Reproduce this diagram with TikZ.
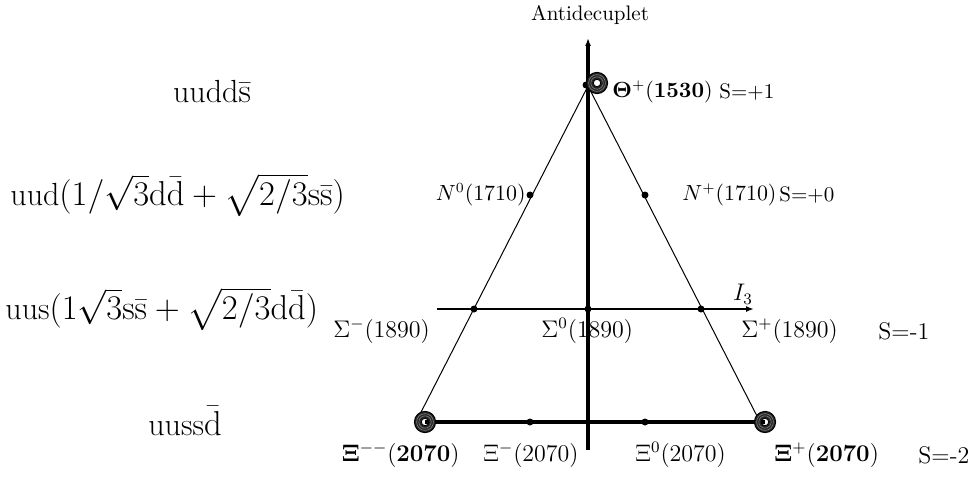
\documentclass[tikz,border=0pt]{standalone}
\usepackage{amsmath}
\usetikzlibrary{arrows.meta}
\begin{document}
\begin{tikzpicture}[x=0.5pt,y=-0.5pt,
  lbl/.style={inner sep=0pt,font=\fontsize{12}{14}\selectfont},
  slbl/.style={inner sep=0pt,font=\fontsize{10.5}{12.5}\selectfont},
  big/.style={inner sep=0pt,font=\fontsize{16}{19}\selectfont},
  edge/.style={line width=0.5pt},
  axisline/.style={line width=1.6pt},
  pt/.style={circle,fill=black,inner sep=0pt,minimum size=3.5pt},
]
\useasboundingbox (0,0) rectangle (977,476);
% key points
\coordinate (A) at (588,86);
\coordinate (Lt) at (417,420);
\coordinate (Rt) at (759,420);
\coordinate (axb) at (588,450);
\coordinate (axt) at (588,38);
\coordinate (i3a) at (437,309);
\coordinate (i3b) at (754,309);
\coordinate (bl) at (425,422);
\coordinate (br) at (765,422);
% title
\node[inner sep=0pt,font=\fontsize{10.5}{12}\selectfont] (ttl) at (590,15) {Antidecuplet};
% triangle edges
\draw[edge] (A) -- (Lt);
\draw[edge] (A) -- (Rt);
% axes
\draw[axisline,-{Latex[length=4pt,width=3pt]}] (axb) -- (axt);
\draw[line width=0.9pt,-{Latex[length=4pt,width=3pt]}] (i3a) -- (i3b);
\node[lbl] (i3) at (743,294) {$I_3$};
\draw[axisline] (bl) -- (br);
% dots
\node[pt] (d0) at (586,85) {};
\node[pt] (n0) at (530,195) {};
\node[pt] (np) at (645,195) {};
\node[pt] (sm) at (474,309) {};
\node[pt] (s0) at (588,309) {};
\node[pt] (sp) at (701,309) {};
\node[pt] (xm) at (530,422) {};
\node[pt] (x0) at (645,422) {};
% rings
\foreach \c in {(597,83),(425,422),(765,422)}{
  \draw[line width=3.3pt,black!85] \c circle (7.2);
  \draw[line width=0.5pt] \c circle (3.8);
  \draw[line width=0.5pt] \c circle (10.6);
  \draw[line width=0.3pt,black!50] \c circle (6.2);
  \draw[line width=0.3pt,black!50] \c circle (8.4);
}
% left quark contents
\node[big] (q1) at (212,92) {uudd$\bar{\mathrm{s}}$};
\node[big,anchor=west] (q2) at (10,195) {uud$(1/\sqrt{3}\mathrm{d}\bar{\mathrm{d}}+\sqrt{2/3}\mathrm{s}\bar{\mathrm{s}})$};
\node[big,anchor=west] (q3) at (5,309) {uus$(1\sqrt{3}\mathrm{s}\bar{\mathrm{s}}+\sqrt{2/3}\mathrm{d}\bar{\mathrm{d}})$};
\node[big] (q4) at (185,421) {uuss$\bar{\mathrm{d}}$};
% row labels
\node[slbl,anchor=west] (th) at (612,92) {$\mathbf{\Theta}^+(\mathbf{1530})$};
\node[slbl,anchor=west] (s1) at (719,92) {S=+1};
\node[slbl,anchor=east] (ln0) at (526,195) {$N^0(1710)$};
\node[slbl,anchor=west] (lnp) at (682,195) {$N^+(1710)$};
\node[slbl,anchor=west] (s2) at (779,195) {S=+0};
\node[lbl,anchor=west] (lsm) at (333,331) {$\Sigma^-(1890)$};
\node[lbl,anchor=west] (ls0) at (541,331) {$\Sigma^0(1890)$};
\node[lbl,anchor=west] (lsp) at (741,331) {$\Sigma^+(1890)$};
\node[lbl,anchor=west] (s3) at (878,331) {S=-1};
\node[lbl,anchor=east] (lxmm) at (460,455) {$\mathbf{\Xi}^{--}(\mathbf{2070})$};
\node[lbl,anchor=west] (lxm) at (483,455) {$\Xi^-(2070)$};
\node[lbl,anchor=west] (lx0) at (635,455) {$\Xi^0(2070)$};
\node[lbl,anchor=west] (lxp) at (774,455) {$\mathbf{\Xi}^+(\mathbf{2070})$};
\node[lbl,anchor=west] (s4) at (918,455) {S=-2};
\end{tikzpicture}
\end{document}
